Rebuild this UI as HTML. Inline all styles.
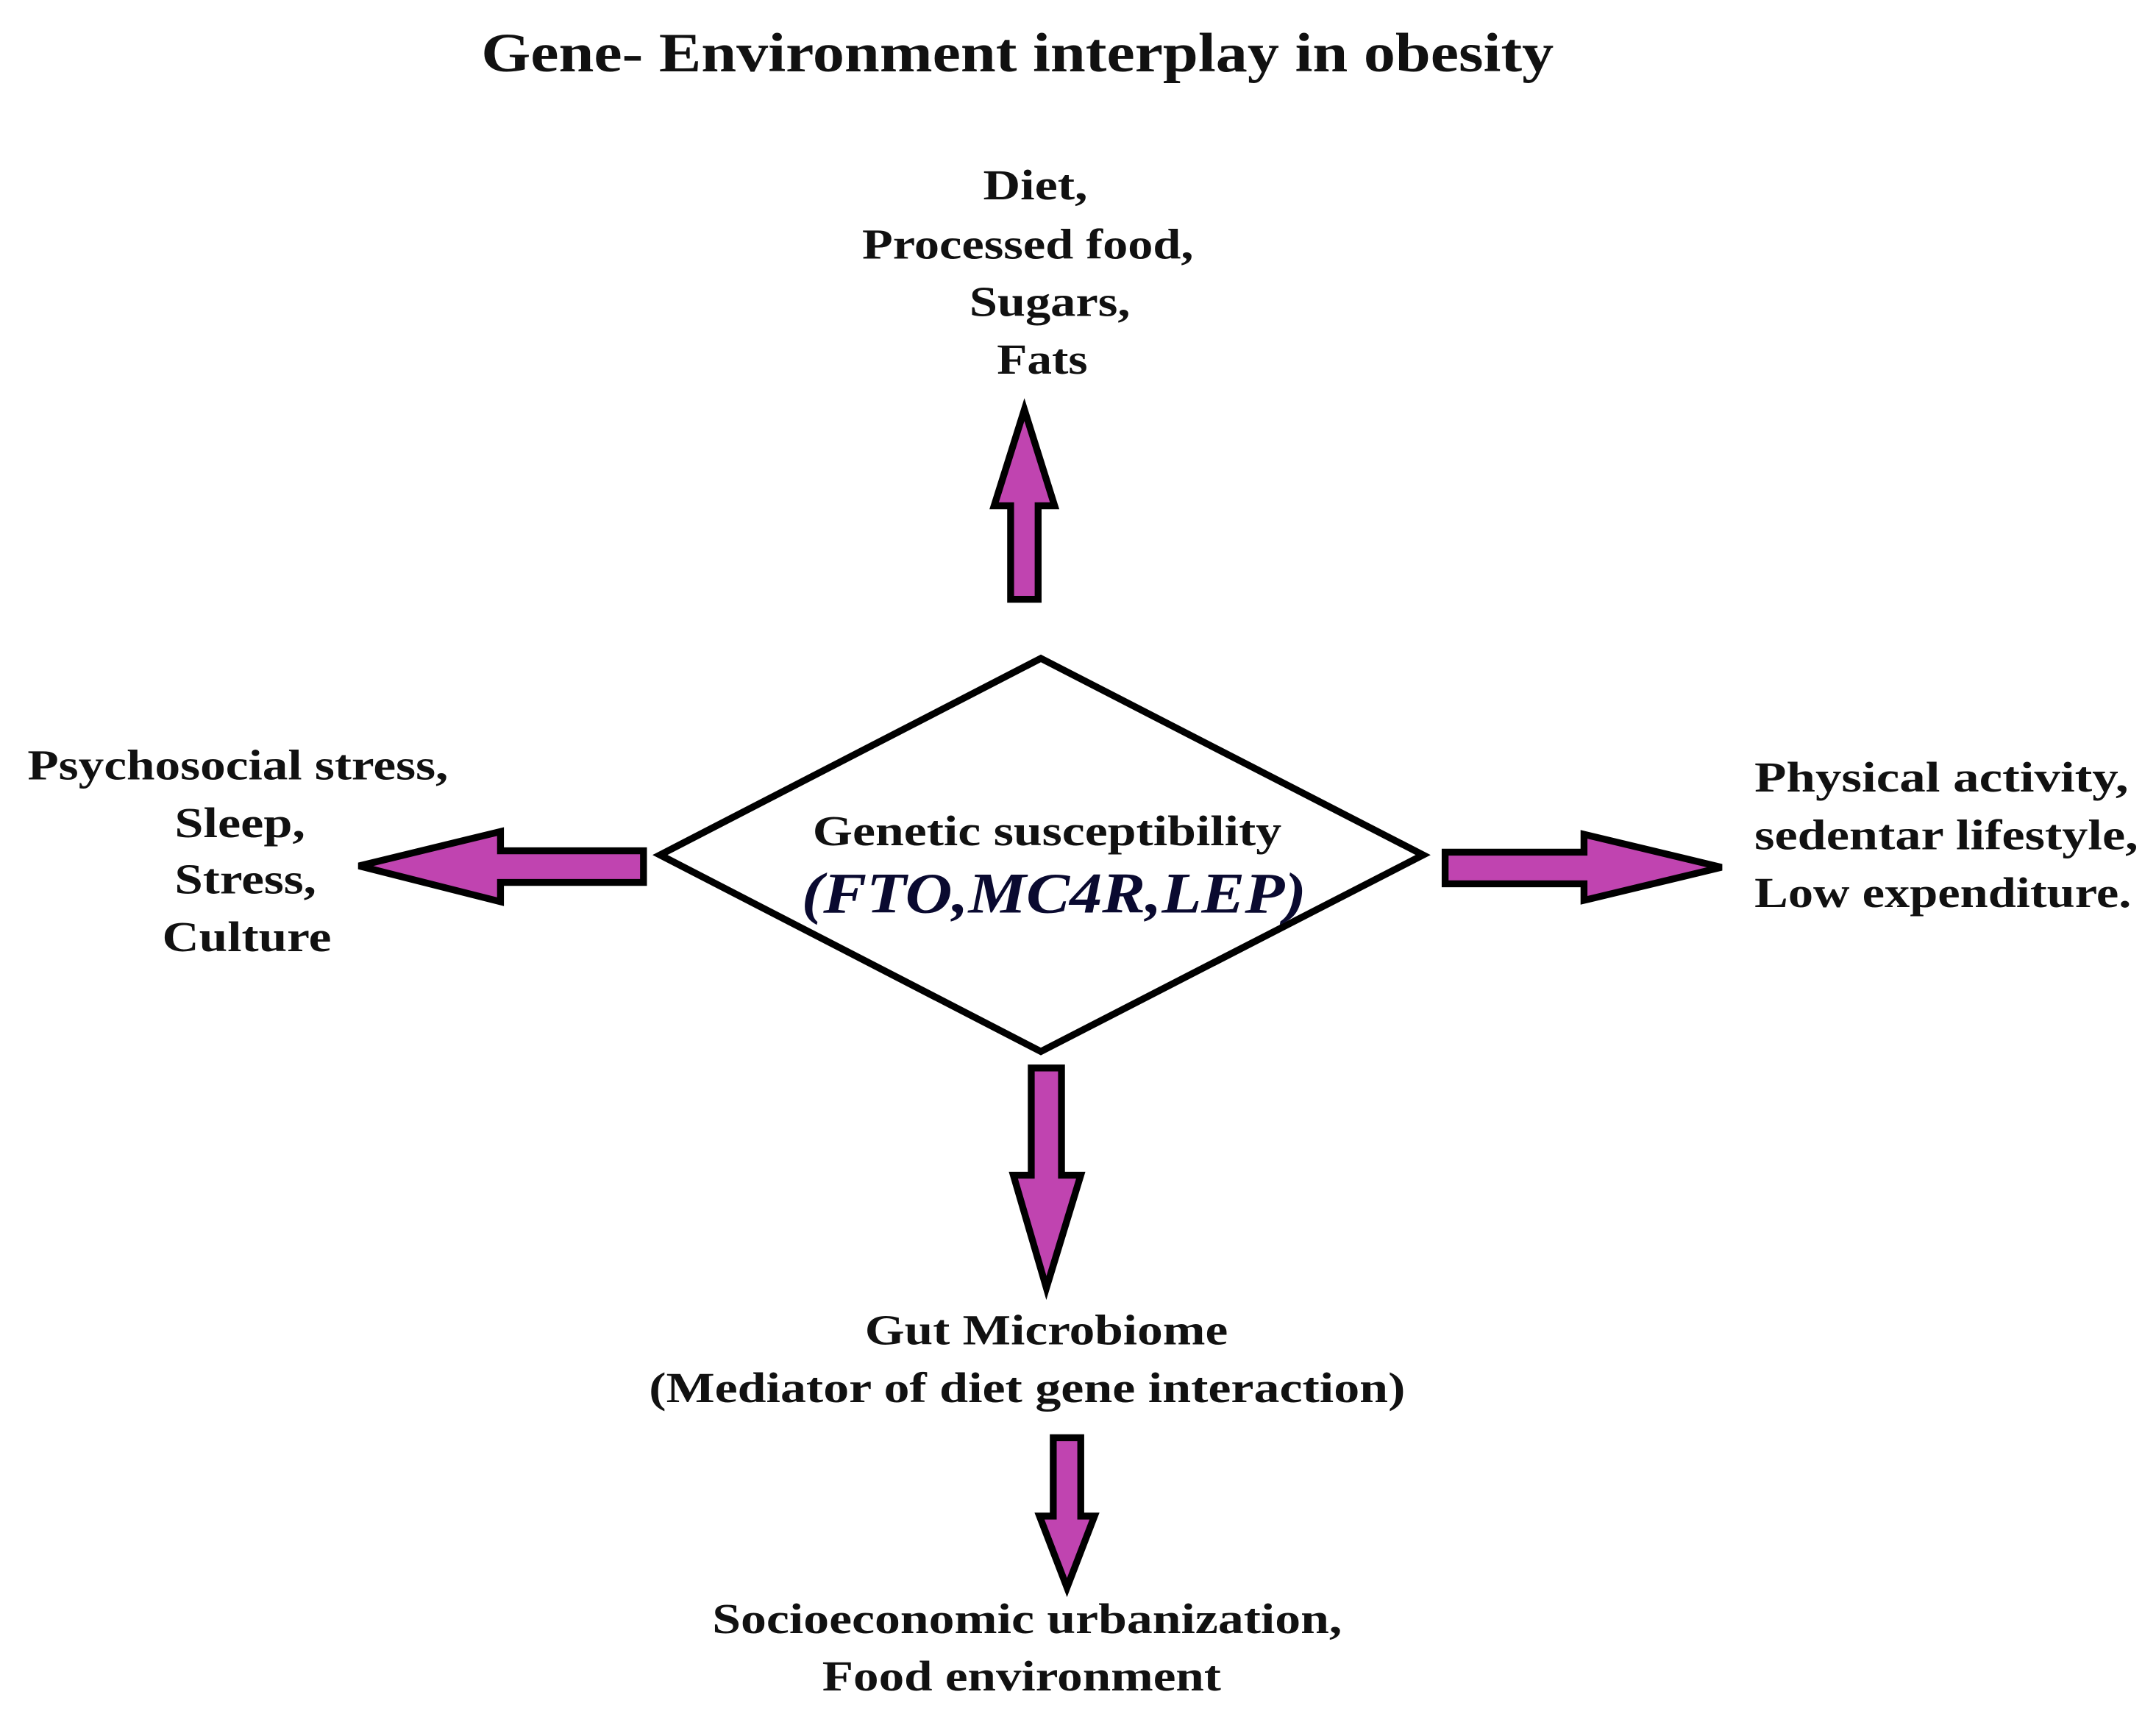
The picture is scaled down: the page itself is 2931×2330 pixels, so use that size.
<!DOCTYPE html>
<html><head><meta charset="utf-8"><style>
html,body{margin:0;padding:0;background:#fff;}
svg{display:block;}
text{font-family:"Liberation Serif","Times New Roman",serif;font-weight:bold;fill:#111;}
</style></head><body>
<svg width="2931" height="2330" viewBox="0 0 1568 1247" preserveAspectRatio="none" xmlns="http://www.w3.org/2000/svg">
<rect width="1568" height="1247" fill="#fff"/>
<text x="350" y="52" font-size="40" textLength="780" lengthAdjust="spacingAndGlyphs">Gene- Environment interplay in obesity</text>

<g font-size="31" lengthAdjust="spacingAndGlyphs">
<text x="715" y="145" textLength="76" lengthAdjust="spacingAndGlyphs">Diet,</text>
<text x="627" y="188" textLength="241" lengthAdjust="spacingAndGlyphs">Processed food,</text>
<text x="705" y="230" textLength="117" lengthAdjust="spacingAndGlyphs">Sugars,</text>
<text x="725" y="272" textLength="66" lengthAdjust="spacingAndGlyphs">Fats</text>

<text x="20" y="567" textLength="306" lengthAdjust="spacingAndGlyphs">Psychosocial stress,</text>
<text x="127" y="609" textLength="95" lengthAdjust="spacingAndGlyphs">Sleep,</text>
<text x="127" y="650" textLength="103" lengthAdjust="spacingAndGlyphs">Stress,</text>
<text x="118" y="692" textLength="123" lengthAdjust="spacingAndGlyphs">Culture</text>

<text x="1276" y="576" textLength="272" lengthAdjust="spacingAndGlyphs">Physical activity,</text>
<text x="1276" y="618" textLength="279" lengthAdjust="spacingAndGlyphs">sedentar lifestyle,</text>
<text x="1276" y="660" textLength="274" lengthAdjust="spacingAndGlyphs">Low expenditure.</text>

<text x="629" y="978" textLength="264" lengthAdjust="spacingAndGlyphs">Gut Microbiome</text>
<text x="472" y="1020" textLength="550" lengthAdjust="spacingAndGlyphs">(Mediator of diet gene interaction)</text>

<text x="518" y="1188" textLength="458" lengthAdjust="spacingAndGlyphs">Socioeconomic urbanization,</text>
<text x="598" y="1230" textLength="290" lengthAdjust="spacingAndGlyphs">Food environment</text>
</g>

<!-- diamond -->
<polygon points="757,479 1035,622 757,765 480,622" fill="#fff" stroke="#000" stroke-width="5" stroke-linejoin="miter"/>
<text x="591" y="615" font-size="31" textLength="341" lengthAdjust="spacingAndGlyphs">Genetic susceptibility</text>
<text x="583" y="664" font-size="42" font-style="italic" style="fill:#0a0a30" textLength="367" lengthAdjust="spacingAndGlyphs">(FTO,MC4R,LEP)</text>

<g fill="#c044b0" stroke="#000" stroke-width="5" stroke-linejoin="miter">
<!-- up -->
<polygon points="745,298 767,368 755,368 755,436 735,436 735,368 723,368"/>
<!-- left -->
<polygon points="261,630 364,605 364,619 468,619 468,642 364,642 364,656"/>
<!-- right -->
<polygon points="1252,631 1152,607 1152,620 1051,620 1051,643 1152,643 1152,655"/>
<!-- down 1 -->
<polygon points="761,937 786,855 772,855 772,777 750,777 750,855 737,855"/>
<!-- down 2 -->
<polygon points="776,1155 796,1103 786,1103 786,1046 766,1046 766,1103 756,1103"/>
</g>
</svg>
</body></html>
